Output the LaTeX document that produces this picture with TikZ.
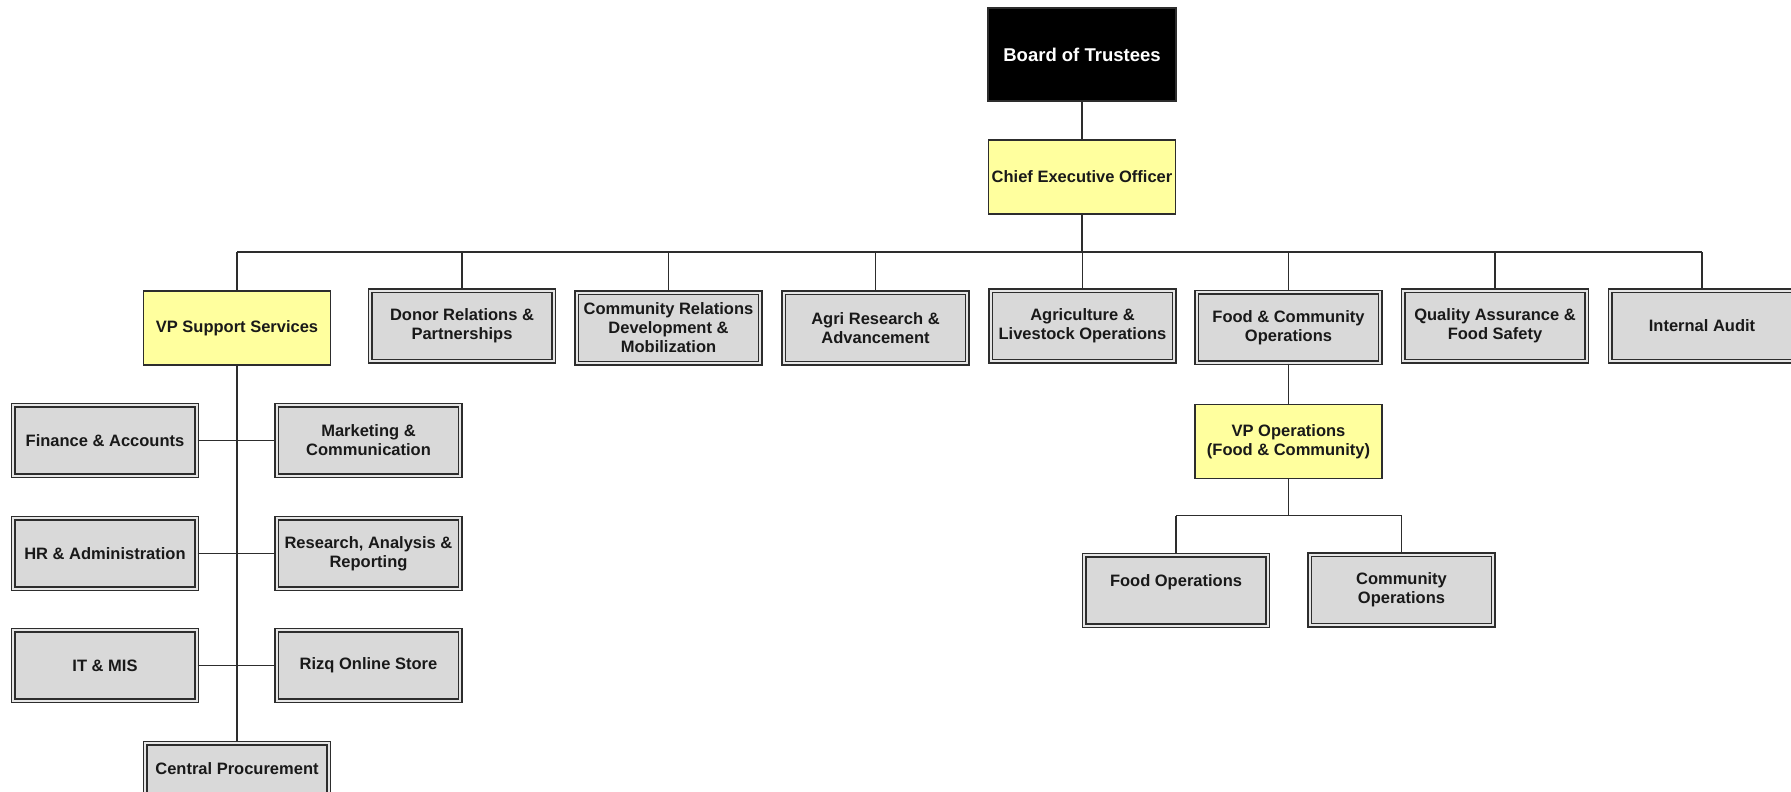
\documentclass[tikz,border=0pt]{standalone}
\usepackage{fontspec}
\setmainfont{Liberation Sans}
\definecolor{boxgray}{RGB}{217,217,217}
\definecolor{gapgray}{RGB}{230,230,230}
\definecolor{paleyellow}{RGB}{255,255,158}
\definecolor{edge}{RGB}{45,45,45}
\definecolor{ink}{RGB}{25,25,25}
\begin{document}
\begin{tikzpicture}[x=1pt,y=-1pt,
  every node/.style={font=\fontsize{16.5}{19}\selectfont\bfseries, text=ink, align=center, inner sep=0pt},
  graybox/.style={draw=edge, fill=boxgray, line width=1.7pt, double=gapgray, double distance=2pt,
                  minimum width=183.5pt, minimum height=70.5pt},
  yellowbox/.style={draw=edge, fill=paleyellow, line width=1.8pt, minimum width=187pt, minimum height=74pt},
  blackbox/.style={draw=edge, fill=black, line width=1.6pt, text=white, minimum width=188.5pt, minimum height=93.5pt,
                   font=\fontsize{18.5}{21}\selectfont\bfseries},
  conn/.style={draw=edge, line width=1.9pt}]
\fill[white] (0,0) rectangle (1791,792);
\useasboundingbox (0,0) rectangle (1791,792);

% top
\node[blackbox] (bot) at (1082,54.5) {Board of Trustees};
\node[yellowbox] (ceo) at (1082,177) {Chief Executive Officer};

% second row
\node[yellowbox] (vps) at (237,328) {VP Support Services};
\node[graybox] (donor) at (462,326) {Donor Relations \&\\Partnerships};
\node[graybox] (comrel) at (668.5,328) {Community Relations\\Development \&\\Mobilization};
\node[graybox] (agri) at (875.5,328) {Agri Research \&\\Advancement};
\node[graybox] (agliv) at (1082.5,326) {Agriculture \&\\Livestock Operations};
\node[graybox] (fco) at (1288.5,327.5) {Food \& Community\\Operations};
\node[graybox] (qa) at (1495,326) {Quality Assurance \&\\Food Safety};
\node[graybox] (audit) at (1702,326) {Internal Audit};

% operations branch
\node[yellowbox] (vpo) at (1288.5,441.5) {VP Operations\\(Food \& Community)};
\node[graybox] (fo) at (1176,590.5) {Food Operations\\\mbox{}};
\node[graybox] (co) at (1401.5,590) {Community\\Operations};

% support branch
\node[graybox] (fin) at (105,440.5) {Finance \& Accounts};
\node[graybox] (mkt) at (368.5,440.5) {Marketing \&\\Communication};
\node[graybox] (hr) at (105,553.5) {HR \& Administration};
\node[graybox] (res) at (368.5,553.5) {Research, Analysis \&\\Reporting};
\node[graybox] (it) at (105,665.5) {IT \& MIS};
\node[graybox] (rizq) at (368.5,665.5) {Rizq Online Store};
\node[graybox] (cp) at (237,778.5) {Central Procurement\\\mbox{}};

% connectors
\coordinate (bus) at (1082,252);
\coordinate (subbus) at (1288.5,515.5);
\draw[conn] (bot.south) -- (ceo.north);
\draw[conn] (ceo.south) -- (bus);
\draw[conn] (vps.north |- bus) -- (audit.north |- bus);
\foreach \n in {vps,donor,comrel,agri,agliv,fco,qa,audit}
  \draw[conn] (\n.north |- bus) -- (\n.north);
\draw[conn] (vps.south) -- (cp.north);
\draw[conn] (fin.east) -- (mkt.west);
\draw[conn] (hr.east) -- (res.west);
\draw[conn] (it.east) -- (rizq.west);
\draw[conn] (fco.south) -- (vpo.north);
\draw[conn] (vpo.south) -- (subbus);
\draw[conn] (fo.north |- subbus) -- (co.north |- subbus);
\draw[conn] (fo.north |- subbus) -- (fo.north);
\draw[conn] (co.north |- subbus) -- (co.north);
\end{tikzpicture}
\end{document}
